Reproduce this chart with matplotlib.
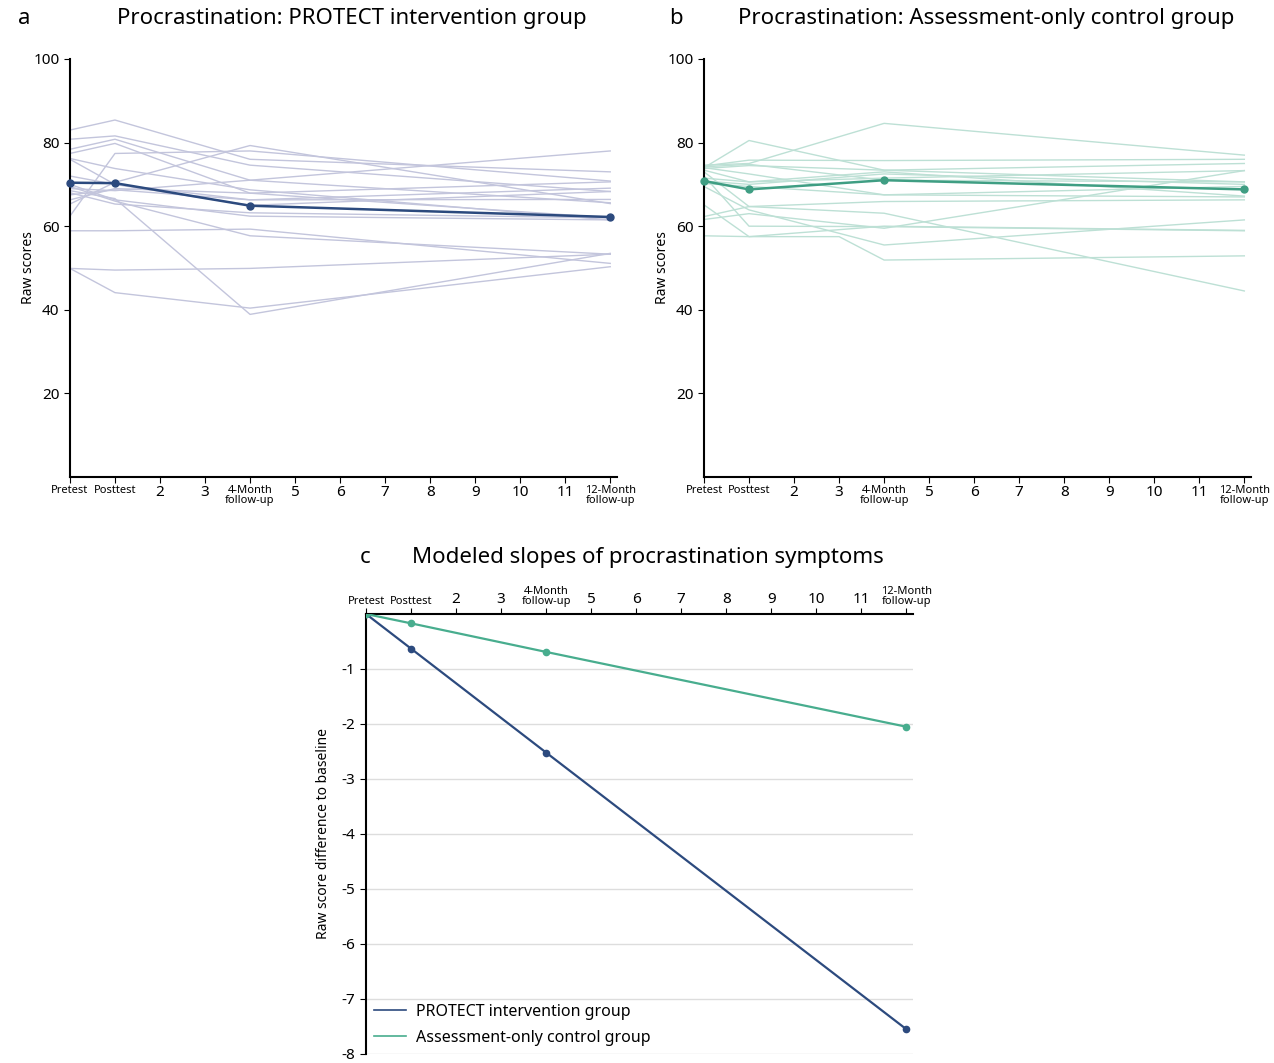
import numpy as np
import matplotlib
matplotlib.use("Agg")
import matplotlib.pyplot as plt

plt.rcParams["font.family"] = ["Noto Sans", "DejaVu Sans"]

# measurement times (months)
times = [0, 1, 4, 12]
tick_pos = list(range(13))
tick_labels = ["Pretest", "Posttest", "2", "3", "4-Month\nfollow-up", "5", "6", "7",
               "8", "9", "10", "11", "12-Month\nfollow-up"]

# panel a: individual trajectories, PROTECT group (pre, post, 4m, 12m)
protect_lines = [
    [83.0, 85.4, 76.0, 73.0],
    [80.8, 81.6, 74.6, 68.3],
    [78.4, 80.8, 71.0, 65.6],
    [77.4, 79.8, 67.9, 62.0],
    [76.2, 73.8, 68.7, 61.5],
    [62.4, 77.4, 78.0, 70.8],
    [65.3, 70.5, 79.3, 65.4],
    [69.0, 68.5, 71.0, 78.0],
    [70.0, 66.3, 62.4, 61.5],
    [68.0, 65.3, 63.2, 62.0],
    [67.5, 68.7, 66.3, 69.1],
    [66.3, 69.0, 67.9, 70.6],
    [58.9, 58.9, 59.3, 51.1],
    [69.5, 66.0, 57.7, 53.3],
    [49.9, 49.5, 49.9, 53.3],
    [49.9, 44.1, 40.4, 50.3],
    [68.5, 66.6, 38.9, 53.5],
    [72.0, 70.0, 66.3, 66.4],
    [76.0, 70.0, 65.0, 68.3],
]
protect_mean = [70.4, 70.3, 64.9, 62.2]

# panel b: individual trajectories, control group (pre, post, 4m, 12m)
control_lines = [
    [74.6, 75.0, 84.6, 77.0],
    [74.0, 80.5, 73.4, 70.6],
    [74.4, 75.8, 75.7, 76.0],
    [73.8, 74.5, 73.4, 75.0],
    [73.4, 70.6, 71.5, 73.3],
    [74.0, 72.5, 67.5, 69.5],
    [73.0, 64.7, 63.1, 44.5],
    [72.0, 60.0, 59.9, 58.9],
    [69.5, 63.9, 55.5, 61.5],
    [62.3, 64.7, 65.9, 66.3],
    [61.6, 63.0, 59.5, 73.3],
    [65.1, 57.5, 60.0, 59.0],
    [70.8, 70.0, 72.5, 70.0],
    [71.5, 70.6, 73.0, 67.2],
    [74.2, 74.8, 71.0, 70.6],
    [70.2, 69.5, 67.5, 67.0],
]
# one participant with an extra measurement at month 3
control_extra_times = [0, 1, 3, 4, 12]
control_extra_line = [57.7, 57.5, 57.5, 51.9, 52.9]
control_mean = [70.8, 68.8, 71.0, 68.8]

# panel c: modeled slopes (difference to baseline)
protect_slope = [0, -0.63, -2.52, -7.55]
control_slope = [0, -0.17, -0.69, -2.05]

navy = "#2c4a7e"
lavender = "#c3c5dc"
teal = "#3f9e83"
mint = "#bde0d5"
teal_c = "#48ad8e"


def style_ticks(ax):
    ax.set_xticks(tick_pos)
    ax.set_xticklabels(tick_labels)
    for i, lab in enumerate(ax.get_xticklabels()):
        if tick_labels[i].isdigit():
            lab.set_fontsize(11)
        else:
            lab.set_fontsize(8)
            lab.set_linespacing(0.85)


def raw_panel(ax, lines, mean, light, dark, extra=None):
    for ln in lines:
        ax.plot(times, ln, color=light, lw=1.0, zorder=1)
    if extra is not None:
        ax.plot(extra[0], extra[1], color=light, lw=1.0, zorder=1)
    ax.plot(times, mean, color=dark, lw=1.8, marker="o", ms=5, zorder=3, clip_on=False)
    ax.set_xlim(0, 12.15)
    ax.set_ylim(0, 100)
    ax.set_yticks([20, 40, 60, 80, 100])
    ax.tick_params(axis="y", labelsize=11, length=4)
    ax.tick_params(axis="x", length=4, pad=2)
    style_ticks(ax)
    for s in ["top", "right"]:
        ax.spines[s].set_visible(False)
    ax.spines["left"].set_linewidth(1.5)
    ax.spines["bottom"].set_linewidth(1.5)
    ax.set_ylabel("Raw scores", fontsize=10, labelpad=-2)


fig = plt.figure(figsize=(12.74, 10.63), dpi=100)
ax_a = fig.add_axes([0.0549, 0.5513, 0.4294, 0.3932])
ax_b = fig.add_axes([0.5526, 0.5513, 0.4294, 0.3932])
ax_c = fig.add_axes([0.2873, 0.0085, 0.4294, 0.4139])

raw_panel(ax_a, protect_lines, protect_mean, lavender, navy)
raw_panel(ax_b, control_lines, control_mean, mint, teal,
          extra=(control_extra_times, control_extra_line))

# panel titles and letters
fig.text(0.014, 0.983, "a", fontsize=16, va="center")
fig.text(0.2763, 0.983, "Procrastination: PROTECT intervention group",
         fontsize=16, va="center", ha="center")
fig.text(0.525, 0.983, "b", fontsize=16, va="center")
fig.text(0.774, 0.983, "Procrastination: Assessment-only control group",
         fontsize=16, va="center", ha="center")
fig.text(0.2825, 0.4755, "c", fontsize=16, va="center")
fig.text(0.5086, 0.4755, "Modeled slopes of procrastination symptoms",
         fontsize=16, va="center", ha="center")

# panel c
ax_c.plot(times, protect_slope, color=navy, lw=1.6, marker="o", ms=4.5,
          label="PROTECT intervention group", zorder=3)
ax_c.plot(times, control_slope, color=teal_c, lw=1.6, marker="o", ms=4.5,
          label="Assessment-only control group", zorder=3)
ax_c.set_xlim(0, 12.15)
ax_c.set_ylim(-8, 0)
ax_c.set_yticks([-1, -2, -3, -4, -5, -6, -7, -8])
ax_c.set_yticklabels(["-1", "-2", "-3", "-4", "-5", "-6", "-7", "-8"])
ax_c.yaxis.grid(True, color="#dddddd", lw=1)
ax_c.set_axisbelow(True)
ax_c.xaxis.set_ticks_position("top")
ax_c.xaxis.set_label_position("top")
style_ticks(ax_c)
ax_c.tick_params(axis="x", length=4, pad=1)
ax_c.tick_params(axis="y", labelsize=11, length=4)
ax_c.spines["bottom"].set_visible(False)
ax_c.spines["right"].set_visible(False)
ax_c.spines["left"].set_linewidth(1.5)
ax_c.spines["top"].set_linewidth(1.5)
ax_c.set_ylabel("Raw score difference to baseline", fontsize=10, labelpad=8)
leg = ax_c.legend(loc="lower left", frameon=False, fontsize=11.5, handlelength=2.0,
                  handletextpad=0.6, borderaxespad=0.1, labelspacing=0.65)
for h in leg.legend_handles:
    h.set_marker("")
    h.set_linewidth(1.2)

plt.savefig("out.png", dpi=100)
